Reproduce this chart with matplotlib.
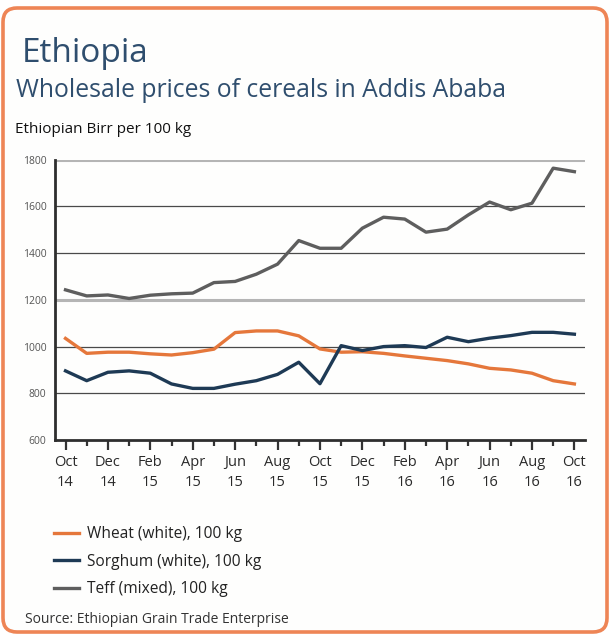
import matplotlib.pyplot as plt
from matplotlib.patches import FancyBboxPatch
from matplotlib.lines import Line2D
import numpy as np

# Monthly data Oct 2014 - Oct 2016 (Birr per 100 kg)
months = ['Oct\n14', 'Nov\n14', 'Dec\n14', 'Jan\n15', 'Feb\n15', 'Mar\n15', 'Apr\n15',
          'May\n15', 'Jun\n15', 'Jul\n15', 'Aug\n15', 'Sep\n15', 'Oct\n15', 'Nov\n15',
          'Dec\n15', 'Jan\n16', 'Feb\n16', 'Mar\n16', 'Apr\n16', 'May\n16', 'Jun\n16',
          'Jul\n16', 'Aug\n16', 'Sep\n16', 'Oct\n16']
wheat = [1035, 971, 976, 976, 969, 964, 974, 989, 1060, 1067, 1067, 1046, 990,
         976, 978, 971, 960, 950, 940, 926, 907, 900, 886, 854, 840]
sorghum = [896, 854, 890, 896, 886, 840, 821, 821, 839, 854, 881, 933, 841,
           1004, 983, 1000, 1004, 996, 1040, 1021, 1036, 1047, 1061, 1061, 1053]
teff = [1243, 1217, 1221, 1206, 1220, 1226, 1229, 1274, 1279, 1310, 1353, 1454, 1421,
        1421, 1507, 1554, 1546, 1490, 1503, 1564, 1619, 1586, 1614, 1764, 1749]

series_names = ['Wheat (white), 100 kg', 'Sorghum (white), 100 kg', 'Teff (mixed), 100 kg']
series_colors = ['#E5773B', '#1E3A55', '#5E5E5E']

fig = plt.figure(figsize=(6.1, 6.34), dpi=100)
fig.patch.set_facecolor('white')

# rounded orange frame (pixel coords)
frame = FancyBboxPatch((3, 2), 604, 624, boxstyle='round,pad=0,rounding_size=14',
                       transform=None, facecolor='#FEFEFD', edgecolor='#EE8556',
                       linewidth=2.6, zorder=-5)
fig.patches.append(frame)

ax = fig.add_axes([0.090, 0.306, 0.869, 0.442])
ax.set_facecolor('none')
x = np.arange(len(months))

for vals, name, col in zip([wheat, sorghum, teff], series_names, series_colors):
    ax.plot(x, vals, color=col, linewidth=2.4, label=name, zorder=3,
            solid_joinstyle='round')

ax.set_xlim(-0.5, 24.5)
ax.set_ylim(600, 1800)

# grid lines
for yv in [800, 1000, 1400, 1600]:
    ax.axhline(yv, color='#4A4A4A', linewidth=0.9, zorder=1)
for yv in [1200, 1800]:
    ax.axhline(yv, color='#B5B5B5', linewidth=2.2, zorder=1)

ax.set_yticks(np.arange(600, 1801, 200))
ax.set_yticklabels([str(v) for v in range(600, 1801, 200)], fontsize=7.5,
                   color='#555555', family='Open Sans')
ax.set_xticks(x[::2])
ax.set_xticklabels(months[::2], fontsize=10.5, color='#2A2A2A', family='Open Sans',
                   linespacing=1.45)
ax.set_xticks(x[1::2], minor=True)
ax.tick_params(axis='x', which='major', direction='out', length=7, width=1.6,
               color='#333333', pad=4)
ax.tick_params(axis='x', which='minor', direction='out', length=4, width=1.6,
               color='#333333')
ax.tick_params(axis='y', length=0, pad=6)

for side in ['top', 'right']:
    ax.spines[side].set_visible(False)
for side in ['left', 'bottom']:
    ax.spines[side].set_color('#2E2E2E')
    ax.spines[side].set_linewidth(2.0)

# titles
fig.text(22 / 610, 1 - 62 / 634, 'Ethiopia', fontsize=24, color='#2F4E6E',
         family='Open Sans', va='baseline')
fig.text(16 / 610, 1 - 97 / 634, 'Wholesale prices of cereals in Addis Ababa',
         fontsize=17.8, color='#2F4E6E', family='Open Sans', va='baseline')
fig.text(15 / 610, 1 - 133 / 634, 'Ethiopian Birr per 100 kg', fontsize=11,
         color='#111111', family='Open Sans', va='baseline')

# legend
handles = [Line2D([0], [0], color=c, linewidth=2.4) for c in series_colors]
fig.legend(handles, series_names, loc='upper left',
           bbox_to_anchor=(40 / 610, 1 - 512 / 634), frameon=False,
           prop={'family': 'Open Sans', 'size': 11.2}, handlelength=1.6,
           handletextpad=0.5, labelspacing=0.75, labelcolor='#222222')

fig.text(25 / 610, 1 - 623 / 634, 'Source: Ethiopian Grain Trade Enterprise',
         fontsize=10, color='#333333', family='Open Sans', va='baseline')

fig.savefig('out.png', dpi=100)
